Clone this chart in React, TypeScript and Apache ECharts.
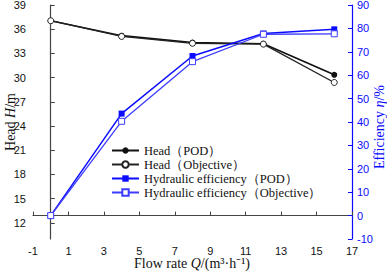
import React, { useEffect, useRef } from "react";
import * as echarts from "echarts";

const flowRate = [0, 4, 8, 12, 16];
const headPOD = [37.05, 35.2, 34.35, 34.2, 30.35];
const headObjective = [37.05, 35.1, 34.25, 34.15, 29.4];
const effPOD = [0, 43.6, 68.2, 77.8, 79.6];
const effObjective = [0, 40.3, 65.8, 77.5, 77.7];
const headTicks = [12, 15, 18, 21, 24, 27, 30, 33, 36, 39];

const seriesNames = [
  "Head（POD）",
  "Head（Objective）",
  "Hydraulic efficiency（POD）",
  "Hydraulic efficiency（Objective）",
];

const pair = (ys: number[]) => flowRate.map((x, i) => [x, ys[i]]);

export default function App() {
  const ref = useRef<HTMLDivElement>(null);
  useEffect(() => {
    document.body.style.margin = "0";
    const chart = echarts.init(ref.current!, null, { renderer: "svg" });
    const blue = "#0b0bff";
    const blue2 = "#3d3dff";
    const tickFont = { fontFamily: "Liberation Sans", fontSize: 11, color: "#111" };
    const rich = (c: string) => ({
      a: { fontFamily: "Liberation Serif", fontSize: 14, fill: c },
      i: { fontFamily: "Liberation Serif", fontSize: 14, fontStyle: "italic", fill: c },
    });
    chart.setOption({
      animation: false,
      backgroundColor: "#fff",
      grid: { left: 33, right: 35, top: 5, bottom: 33, containLabel: false, outerBoundsMode: "none" },
      legend: {
        orient: "vertical",
        left: 106,
        top: 139,
        itemWidth: 27,
        itemHeight: 8,
        itemGap: 1,
        data: seriesNames,
        textStyle: { fontFamily: "Liberation Serif", fontSize: 12.5, color: "#111" },
      },
      graphic: [
        {
          type: "text",
          x: 10,
          y: 122,
          rotation: Math.PI / 2,
          style: { text: "{a|Head }{i|H}{a|/m}", rich: rich("#111"), align: "center", verticalAlign: "middle" },
        },
        {
          type: "text",
          x: 379,
          y: 127,
          rotation: Math.PI / 2,
          style: { text: "{a|Efficiency }{i|η}{a|/%}", rich: rich(blue), align: "center", verticalAlign: "middle" },
        },
        {
          type: "text",
          x: 192,
          y: 263,
          style: { text: "{a|Flow rate }{i|Q}{a|/(m³·h⁻¹)}", rich: rich("#111"), align: "center", verticalAlign: "middle" },
        },
      ],
      xAxis: {
        type: "value",
        min: -1,
        max: 17,
        interval: 2,
        axisLine: { lineStyle: { color: "#444", width: 1.2 } },
        axisTick: { inside: true, length: 4, lineStyle: { color: "#444" } },
        axisLabel: { ...tickFont, margin: 6 },
        splitLine: { show: false },
      },
      yAxis: [
        {
          type: "value",
          min: 10,
          max: 39,
          axisLine: { show: true, lineStyle: { color: "#444", width: 1.2 } },
          axisTick: { show: true, inside: true, length: 4, customValues: headTicks, lineStyle: { color: "#444" } },
          axisLabel: { ...tickFont, margin: 7, customValues: headTicks },
          splitLine: { show: false },
        },
        {
          type: "value",
          min: -10,
          max: 90,
          interval: 10,
          position: "right",
          axisLine: { show: true, lineStyle: { color: blue, width: 1.2 } },
          axisTick: { show: true, inside: true, length: 4, lineStyle: { color: blue } },
          axisLabel: { ...tickFont, color: blue, margin: 5 },
          splitLine: { show: false },
        },
      ],
      series: [
        {
          name: seriesNames[0],
          type: "line",
          yAxisIndex: 0,
          data: pair(headPOD),
          symbol: "circle",
          symbolSize: 6,
          lineStyle: { color: "#111", width: 1.6 },
          itemStyle: { color: "#111" },
          z: 4,
        },
        {
          name: seriesNames[1],
          type: "line",
          yAxisIndex: 0,
          data: pair(headObjective),
          symbol: "circle",
          symbolSize: 6,
          lineStyle: { color: "#222", width: 1.3 },
          itemStyle: { color: "#fff", borderColor: "#222", borderWidth: 1 },
          z: 5,
        },
        {
          name: seriesNames[2],
          type: "line",
          yAxisIndex: 1,
          data: pair(effPOD),
          symbol: "rect",
          symbolSize: 6,
          lineStyle: { color: blue, width: 1.5 },
          itemStyle: { color: blue },
          z: 6,
        },
        {
          name: seriesNames[3],
          type: "line",
          yAxisIndex: 1,
          data: pair(effObjective),
          symbol: "rect",
          symbolSize: 6,
          lineStyle: { color: blue2, width: 1.3 },
          itemStyle: { color: "#fff", borderColor: blue2, borderWidth: 1 },
          z: 7,
        },
      ],
    });
    return () => chart.dispose();
  }, []);
  return <div ref={ref} style={{ width: 387, height: 272 }} />;
}
